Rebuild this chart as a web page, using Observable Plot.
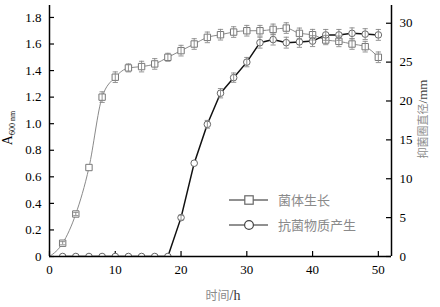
<!DOCTYPE html>
<html>
<head>
<meta charset="utf-8">
<script src="https://cdn.jsdelivr.net/npm/d3@7"></script>
<script src="https://cdn.jsdelivr.net/npm/@observablehq/plot@0.6"></script>
<style>
  html, body { margin: 0; padding: 0; background: white; }
  #chart svg text { font-family: "Liberation Serif", "Times New Roman", serif !important; }
  #chart svg text.cjk, #chart svg tspan.cjk { font-family: "Noto Sans CJK SC", sans-serif !important; }
</style>
</head>
<body>
<div id="chart"></div>
<script>
// ---- data ----
const growthHours = [0,2,4,6,8,10,12,14,16,18,20,22,24,26,28,30,32,34,36,38,40,42,44,46,48,50];
const growthA600 = [0,0.10,0.32,0.67,1.20,1.35,1.42,1.43,1.45,1.50,1.55,1.60,1.65,1.67,1.69,1.70,1.70,1.71,1.72,1.68,1.67,1.63,1.62,1.60,1.58,1.50];
const growthErr  = [0,0.012,0.012,0,0.04,0.04,0.03,0.04,0.04,0.03,0.04,0.04,0.04,0.04,0.04,0.04,0.04,0.04,0.04,0.04,0.04,0.035,0.04,0.04,0.04,0.04];

const inhibHours = [2,4,6,8,10,12,14,16,18,20,22,24,26,28,30,32,34,36,38,40,42,44,46,48,50];
const inhibMM    = [0,0,0,0,0,0,0,0,0,5.0,12.0,17.0,21.0,23.0,25.0,27.5,27.9,27.5,27.6,27.7,28.5,28.5,28.7,28.6,28.5];
const inhibErr   = [0,0,0,0,0,0,0,0,0,0.3,0,0.5,0.6,0.6,0.6,0.7,0.7,0.7,0.7,0.7,0.7,0.7,0.7,0.7,0.7];

const xTicks = [0,10,20,30,40,50];
const yTicks = [0,0.2,0.4,0.6,0.8,1.0,1.2,1.4,1.6,1.8];
const y2Ticks = [0,5,10,15,20,25,30];

const seriesNames = ["菌体生长","抗菌物质产生"];

// ---- derived tables ----
const K = 17.08; // mm per A600 unit on the shared vertical scale
const growth = growthHours.map((t,i) => ({t, v: growthA600[i], e: growthErr[i]}));
const inhib = inhibHours.map((t,i) => ({t, v: inhibMM[i] / K, e: inhibErr[i] / K}));
const growthPts = growth.filter(d => d.t > 0);
const growthE = growth.filter(d => d.e > 0);
const inhibE = inhib.filter(d => d.e > 0);

const cap = {draw(ctx, size){ const r = Math.sqrt(size/Math.PI); ctx.moveTo(-r,0); ctx.lineTo(r,0); }};

const W = 440, H = 307, ML = 49, MR = 49, MT = 5, MB = 51;
const FW = W - ML - MR, FH = H - MT - MB;
const serif = "'Liberation Serif', 'Times New Roman', serif";
const tickFont = {fontSize: 13, fill: "black"};

const chart = Plot.plot({
  width: W, height: H,
  marginLeft: ML, marginRight: MR, marginTop: MT, marginBottom: MB,
  style: {fontSize: "13px", background: "white", color: "black"},
  x: {domain: [0, 52]},
  y: {domain: [0, 1.89]},
  marks: [
    Plot.axisX({ticks: xTicks, tickSize: 0, tickPadding: 8, label: null, tickFormat: d => String(d), ...tickFont}),
    Plot.axisY({ticks: yTicks, tickSize: 0, tickPadding: 8, label: null, tickFormat: d => d === 0 ? "0" : d.toFixed(1), ...tickFont}),
    Plot.axisY(y2Ticks.map(d => d / K), {anchor: "right", tickSize: 0, tickPadding: 8, label: null, tickFormat: d => String(Math.round(d * K)), ...tickFont}),
    // inward ticks
    Plot.ruleX(xTicks, {insetTop: FH - 5, stroke: "black", strokeWidth: 1.2}),
    Plot.ruleY(yTicks, {insetRight: FW - 5, stroke: "black", strokeWidth: 1.2}),
    Plot.ruleY(y2Ticks.map(d => d / K), {insetLeft: FW - 5, stroke: "black", strokeWidth: 1.2}),
    // series lines
    Plot.line(growth, {x: "t", y: "v", stroke: "#8a8a8a", strokeWidth: 1, curve: "monotone-x"}),
    Plot.line(inhib, {x: "t", y: "v", stroke: "#111", strokeWidth: 1.5, clip: true}),
    // markers
    Plot.dot(growthPts, {x: "t", y: "v", symbol: "square", r: 3.6, fill: "white", stroke: "#777", strokeWidth: 1}),
    Plot.dot(inhib, {x: "t", y: "v", symbol: "circle", r: 3.3, fill: "white", stroke: "#666", strokeWidth: 1, clip: true}),
    // error bars
    Plot.ruleX(growthE, {x: "t", y1: d => d.v - d.e, y2: d => d.v + d.e, stroke: "#888", strokeWidth: 0.9}),
    Plot.dot(growthE, {x: "t", y: d => d.v - d.e, symbol: cap, r: 2.6, fill: "none", stroke: "#888", strokeWidth: 0.9}),
    Plot.dot(growthE, {x: "t", y: d => d.v + d.e, symbol: cap, r: 2.6, fill: "none", stroke: "#888", strokeWidth: 0.9}),
    Plot.ruleX(inhibE, {x: "t", y1: d => d.v - d.e, y2: d => d.v + d.e, stroke: "#888", strokeWidth: 0.9}),
    Plot.dot(inhibE, {x: "t", y: d => d.v - d.e, symbol: cap, r: 2.6, fill: "none", stroke: "#888", strokeWidth: 0.9}),
    Plot.dot(inhibE, {x: "t", y: d => d.v + d.e, symbol: cap, r: 2.6, fill: "none", stroke: "#888", strokeWidth: 0.9}),
    // axis lines
    Plot.ruleX([0], {stroke: "black", strokeWidth: 1.5}),
    Plot.ruleX([52], {stroke: "black", strokeWidth: 1.5}),
    Plot.ruleY([0], {stroke: "black", strokeWidth: 1.5})
  ]
});

document.getElementById("chart").appendChild(chart);
const svg = d3.select(chart);

// left axis title  A600 nm
const lt = svg.append("text")
  .attr("transform", "translate(12,128) rotate(-90)")
  .attr("text-anchor", "middle")
  .attr("fill", "black");
lt.append("tspan").attr("font-size", 14).text("A");
lt.append("tspan").attr("font-size", 8).attr("dy", 3).text("600 nm");

// right axis title
const rt = svg.append("text")
  .attr("transform", "translate(427,119) rotate(-90)")
  .attr("text-anchor", "middle")
  .attr("font-size", 11);
rt.append("tspan").attr("class", "cjk").attr("fill", "#8a8a8a").text("抑菌圈直径");
rt.append("tspan").attr("fill", "#444").attr("font-size", 13).text("/mm");

// x axis title
const xt = svg.append("text")
  .attr("x", 223).attr("y", 300)
  .attr("text-anchor", "middle")
  .attr("font-size", 12);
xt.append("tspan").attr("class", "cjk").attr("fill", "#8a8a8a").text("时间");
xt.append("tspan").attr("fill", "#333").attr("font-size", 14).text("/h");

// legend
const lg = svg.append("g").attr("text-anchor", "start");
[200, 225].forEach((y, i) => {
  lg.append("line").attr("x1", 229).attr("x2", 268).attr("y1", y).attr("y2", y)
    .attr("stroke", "#222").attr("stroke-width", 1);
  if (i === 0) {
    lg.append("rect").attr("x", 244.8).attr("y", y - 4.2).attr("width", 8.4).attr("height", 8.4)
      .attr("fill", "white").attr("stroke", "#666").attr("stroke-width", 1.2);
  } else {
    lg.append("circle").attr("cx", 249).attr("cy", y).attr("r", 4.4)
      .attr("fill", "white").attr("stroke", "#444").attr("stroke-width", 1.2);
  }
  lg.append("text").attr("class", "cjk").attr("x", 278).attr("y", y).attr("dy", "0.35em")
    .attr("text-anchor", "start")
    .attr("font-size", 13).attr("fill", "#8a8a8a")
    .text(seriesNames[i]);
});
</script>
</body>
</html>
